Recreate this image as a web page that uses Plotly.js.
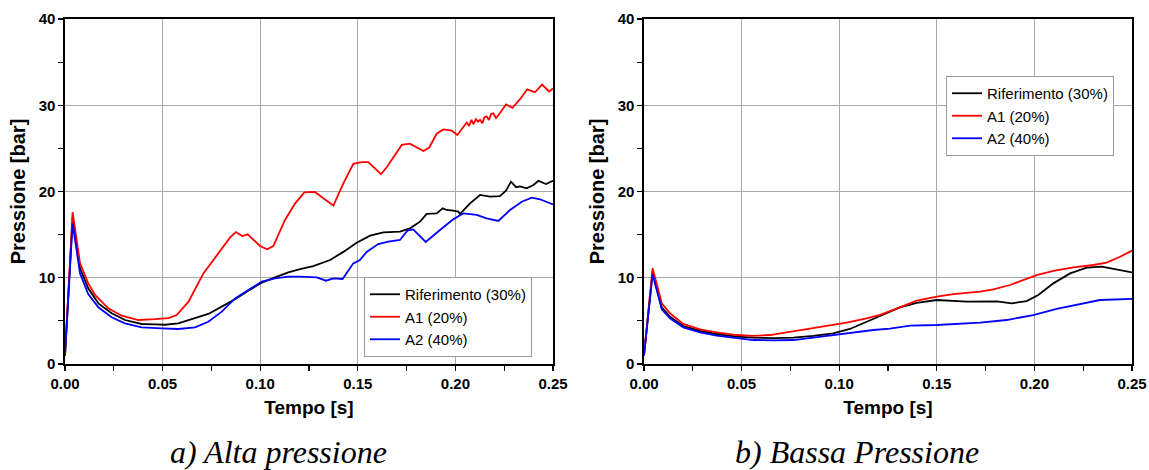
<!DOCTYPE html>
<html>
<head>
<meta charset="utf-8">
<script src="https://cdn.plot.ly/plotly-3.0.1.min.js"></script>
<style>html,body{margin:0;padding:0;background:#fff;}#chart{width:1149px;height:470px;}</style>
</head>
<body>
<div id="chart"></div>
<script>
// ---- Left panel: a) Alta pressione ----
const hpRifT = [0, 0.0039, 0.0077, 0.0119, 0.0171, 0.0239, 0.0307, 0.0393, 0.0461, 0.0512, 0.058, 0.0657, 0.0734, 0.0803, 0.0871, 0.0939, 0.1008, 0.1076, 0.1144, 0.1204, 0.1272, 0.1358, 0.1426, 0.1494, 0.1563, 0.1631, 0.1716, 0.1767, 0.1819, 0.1853, 0.1904, 0.1935, 0.1955, 0.1989, 0.2015, 0.2024, 0.2075, 0.2126, 0.2177, 0.2228, 0.2259, 0.2285, 0.2311, 0.2331, 0.2365, 0.24, 0.2425, 0.2464, 0.25];
const hpRifP = [1.0, 17.0, 11.1, 8.77, 7.03, 5.88, 5.1, 4.64, 4.6, 4.55, 4.71, 5.3, 5.8, 6.65, 7.5, 8.5, 9.43, 10.05, 10.63, 11.0, 11.36, 12.06, 13.0, 14.07, 14.88, 15.27, 15.34, 15.73, 16.5, 17.4, 17.47, 18.05, 17.86, 17.78, 17.66, 17.4, 18.63, 19.6, 19.4, 19.45, 20.1, 21.14, 20.5, 20.6, 20.37, 20.75, 21.25, 20.87, 21.25];

const hpA1T = [0, 0.0039, 0.0077, 0.0119, 0.0154, 0.0222, 0.029, 0.0376, 0.046, 0.053, 0.0572, 0.0632, 0.0709, 0.0768, 0.0845, 0.0876, 0.0908, 0.0936, 0.0999, 0.1036, 0.1067, 0.1127, 0.1178, 0.1226, 0.128, 0.1375, 0.1426, 0.1477, 0.152, 0.1554, 0.1619, 0.1651, 0.1699, 0.1725, 0.1767, 0.1802, 0.1836, 0.1866, 0.1904, 0.1938, 0.1981, 0.201, 0.2058, 0.207, 0.2082, 0.2092, 0.2105, 0.2116, 0.2126, 0.2138, 0.2148, 0.216, 0.2172, 0.2183, 0.2194, 0.2208, 0.2222, 0.2259, 0.2292, 0.2331, 0.2368, 0.2408, 0.2444, 0.248, 0.25];
const hpA1P = [1.0, 17.6, 11.7, 9.35, 8.0, 6.45, 5.6, 5.1, 5.2, 5.33, 5.68, 7.2, 10.5, 12.25, 14.65, 15.3, 14.84, 15.03, 13.68, 13.3, 13.68, 16.7, 18.6, 19.9, 19.95, 18.36, 20.95, 23.2, 23.4, 23.4, 22.0, 22.9, 24.6, 25.4, 25.55, 25.1, 24.7, 25.1, 26.7, 27.2, 27.05, 26.55, 28.0, 27.6, 28.3, 27.8, 28.4, 28.1, 28.3, 27.9, 28.6, 28.7, 28.3, 29.0, 29.07, 28.5, 28.9, 30.1, 29.7, 30.7, 31.85, 31.5, 32.4, 31.6, 31.95];

const hpA2T = [0, 0.0039, 0.0077, 0.0119, 0.0171, 0.0239, 0.0307, 0.0393, 0.0495, 0.058, 0.0666, 0.0734, 0.0803, 0.0871, 0.0939, 0.1008, 0.1076, 0.1144, 0.1204, 0.129, 0.1337, 0.1375, 0.1422, 0.1477, 0.1511, 0.1545, 0.1605, 0.1656, 0.1716, 0.1754, 0.1784, 0.1848, 0.1921, 0.1989, 0.2041, 0.2109, 0.216, 0.222, 0.228, 0.234, 0.2391, 0.2433, 0.25];
const hpA2P = [1.0, 16.3, 10.5, 8.1, 6.57, 5.41, 4.71, 4.25, 4.14, 4.06, 4.25, 4.9, 6.07, 7.6, 8.58, 9.55, 9.93, 10.12, 10.12, 10.05, 9.66, 9.93, 9.86, 11.67, 12.06, 13.0, 13.9, 14.18, 14.38, 15.46, 15.6, 14.15, 15.54, 16.77, 17.47, 17.28, 16.89, 16.58, 17.86, 18.82, 19.28, 19.1, 18.5];

// ---- Right panel: b) Bassa Pressione ----
const lpRifT = [0, 0.0044, 0.0091, 0.0133, 0.0201, 0.0287, 0.0372, 0.0475, 0.056, 0.0662, 0.0765, 0.0867, 0.097, 0.1055, 0.1141, 0.1209, 0.1311, 0.1397, 0.15, 0.1653, 0.1807, 0.1884, 0.196, 0.202, 0.2097, 0.2183, 0.2268, 0.2345, 0.2422, 0.25];
const lpRifP = [1.0, 10.7, 6.57, 5.49, 4.4, 3.83, 3.48, 3.17, 3.05, 3.0, 3.05, 3.25, 3.56, 4.06, 4.9, 5.57, 6.57, 7.1, 7.42, 7.23, 7.26, 7.03, 7.3, 8.0, 9.35, 10.5, 11.17, 11.28, 10.98, 10.63];

const lpA1T = [0, 0.0044, 0.0091, 0.0133, 0.0201, 0.0287, 0.0372, 0.0475, 0.056, 0.0645, 0.0731, 0.0834, 0.0936, 0.1038, 0.1141, 0.1209, 0.1311, 0.1397, 0.15, 0.1585, 0.1721, 0.179, 0.1875, 0.1943, 0.2012, 0.2097, 0.22, 0.2302, 0.237, 0.2439, 0.25];
const lpA1P = [1.0, 11.1, 7.04, 5.88, 4.64, 4.02, 3.67, 3.36, 3.25, 3.36, 3.67, 4.06, 4.4, 4.79, 5.3, 5.7, 6.57, 7.34, 7.8, 8.1, 8.38, 8.66, 9.16, 9.74, 10.3, 10.8, 11.2, 11.48, 11.75, 12.44, 13.14];

const lpA2T = [0, 0.0044, 0.0091, 0.0133, 0.0201, 0.0287, 0.0372, 0.0475, 0.056, 0.0662, 0.0765, 0.0867, 0.097, 0.1072, 0.1175, 0.1260, 0.1363, 0.15, 0.1721, 0.1858, 0.1994, 0.2114, 0.2234, 0.2336, 0.25];
const lpA2P = [1.0, 10.4, 6.34, 5.3, 4.25, 3.67, 3.29, 2.98, 2.78, 2.74, 2.78, 3.05, 3.36, 3.63, 3.94, 4.1, 4.44, 4.52, 4.79, 5.1, 5.68, 6.38, 6.96, 7.42, 7.54];

const seriesNames = ['Riferimento (30%)', 'A1 (20%)', 'A2 (40%)'];
const seriesColors = ['#000000', '#ff0000', '#0000ff'];
const xTickVals = [0, 0.05, 0.10, 0.15, 0.20, 0.25];
const xTickText = ['0.00', '0.05', '0.10', '0.15', '0.20', '0.25'];
const yTickVals = [0, 10, 20, 30, 40];
const captions = ['a) Alta pressione', 'b) Bassa Pressione'];

const left = [[hpRifT, hpRifP], [hpA1T, hpA1P], [hpA2T, hpA2P]];
const right = [[lpRifT, lpRifP], [lpA1T, lpA1P], [lpA2T, lpA2P]];

const traces = [];
left.forEach((s, i) => traces.push({
  x: s[0], y: s[1], type: 'scatter', mode: 'lines', name: seriesNames[i],
  line: {color: seriesColors[i], width: 1.8}, xaxis: 'x', yaxis: 'y', legend: 'legend'
}));
right.forEach((s, i) => traces.push({
  x: s[0], y: s[1], type: 'scatter', mode: 'lines', name: seriesNames[i],
  line: {color: seriesColors[i], width: 1.8}, xaxis: 'x2', yaxis: 'y2', legend: 'legend2'
}));

const W = 1149, H = 470;
const tickFont = {family: 'Liberation Sans, Arial, sans-serif', size: 15, color: '#000', weight: 'bold'};
const xTitleFont = {family: 'Liberation Sans, Arial, sans-serif', size: 19, color: '#000', weight: 'bold'};
const yTitleFont = {family: 'Liberation Sans, Arial, sans-serif', size: 20, color: '#000', weight: 'bold'};

function xax(d0, d1, anchor) {
  return {
    domain: [d0 / W, d1 / W], anchor: anchor, range: [0, 0.25],
    tickvals: xTickVals, ticktext: xTickText, ticks: 'outside', ticklen: 5, tickwidth: 1.2, tickcolor: '#000',
    minor: {dtick: 0.025, ticks: 'outside', ticklen: 5, tickwidth: 1.2, tickcolor: '#000', showgrid: false},
    showline: true, linecolor: '#000', linewidth: 1.6, mirror: true,
    showgrid: true, gridcolor: '#a8a8a8', gridwidth: 1, zeroline: false,
    tickfont: tickFont,
    title: {text: 'Tempo [s]', font: xTitleFont, standoff: 10}
  };
}
function yax(anchor) {
  return {
    domain: [1 - 364 / H, 1 - 19 / H], anchor: anchor, range: [0, 40],
    tickvals: yTickVals, ticks: 'outside', ticklen: 5, tickwidth: 1.2, tickcolor: '#000',
    minor: {dtick: 5, ticks: 'outside', ticklen: 5, tickwidth: 1.2, tickcolor: '#000', showgrid: false},
    showline: true, linecolor: '#000', linewidth: 1.6, mirror: true,
    showgrid: true, gridcolor: '#a8a8a8', gridwidth: 1, zeroline: false,
    tickfont: tickFont,
    title: {text: 'Pressione [bar]', font: yTitleFont, standoff: 8}
  };
}

const legendBase = {
  bgcolor: 'rgba(255,255,255,1)', bordercolor: '#9a9a9a', borderwidth: 1,
  font: {family: 'Liberation Sans, Arial, sans-serif', size: 15, color: '#000'},
  xanchor: 'left', yanchor: 'middle', tracegroupgap: 0, itemwidth: 30
};

const layout = {
  width: W, height: H,
  margin: {l: 0, r: 0, t: 0, b: 0},
  paper_bgcolor: '#fff', plot_bgcolor: '#fff',
  showlegend: true,
  xaxis: xax(65, 553, 'y'),
  yaxis: yax('x'),
  xaxis2: xax(644, 1132, 'y2'),
  yaxis2: yax('x2'),
  legend: Object.assign({}, legendBase, {x: 364 / W, y: 1 - 317 / H}),
  legend2: Object.assign({}, legendBase, {x: 946 / W, y: 1 - 116 / H}),
  annotations: [
    {text: captions[0], x: 278 / W, y: 1 - 452 / H, xref: 'paper', yref: 'paper', showarrow: false,
     xanchor: 'center', yanchor: 'middle',
     font: {family: 'Liberation Serif, Times New Roman, serif', size: 32, color: '#000', style: 'italic'}},
    {text: captions[1], x: 857 / W, y: 1 - 452 / H, xref: 'paper', yref: 'paper', showarrow: false,
     xanchor: 'center', yanchor: 'middle',
     font: {family: 'Liberation Serif, Times New Roman, serif', size: 32, color: '#000', style: 'italic'}}
  ]
};

Plotly.newPlot('chart', traces, layout, {displayModeBar: false, staticPlot: true});
</script>
</body>
</html>
